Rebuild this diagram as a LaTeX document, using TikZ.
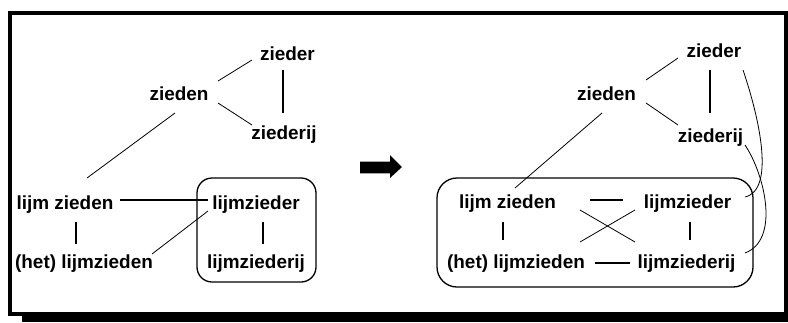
\documentclass[tikz,border=0pt]{standalone}
\usepackage{fontspec}
\setmainfont{Liberation Sans}
\begin{document}
\begin{tikzpicture}[x=1bp,y=-1bp,
  txt/.style={inner sep=0pt, anchor=base, font=\fontsize{19}{21}\selectfont\bfseries},
  thinln/.style={line width=0.8bp},
  thickln/.style={line width=1.8bp},
  grp/.style={line width=1.3bp},
  frame/.style={line width=4bp}]
\useasboundingbox (0,0) rectangle (788,322);
% frame and shadow
\fill (22,312) rectangle (788,322);
\draw[frame] (10,13) rectangle (786,314);
% arrow
\fill (360,161.7) -- (390,161.7) -- (390,155) -- (402,167) -- (390,178) -- (390,173.3) -- (360,173.3) -- cycle;

% left graph
\node[txt] (zl) at (179,100) {zieden};
\node[txt] (Zl) at (287.5,60) {zieder};
\node[txt] (Rl) at (284,139) {ziederij};
\node[txt] (LZl) at (65,209) {lijm zieden};
\node[txt] (Hl) at (84,268) {(het) lijmzieden};
\node[txt] (Ml) at (256,209) {lijmzieder};
\node[txt] (Nl) at (256,268) {lijmziederij};
\draw[thinln] ([shift={(39,-19)}]zl.base) -- ([shift={(-35.5,0)}]Zl.base);
\draw[thinln] ([shift={(39,3)}]zl.base) -- ([shift={(-32,-14)}]Rl.base);
\draw[thickln] ([shift={(-4.5,10)}]Zl.base) -- ([shift={(-1,-26)}]Rl.base);
\draw[thinln] ([shift={(-4,13)}]zl.base) -- ([shift={(22,-31)}]LZl.base);
\draw[thickln] ([shift={(55,-9)}]LZl.base) -- ([shift={(-48,-9)}]Ml.base);
\draw[thinln] ([shift={(-48,2)}]Ml.base) -- ([shift={(68,-14)}]Hl.base);
\draw[thickln] ([shift={(11,13)}]LZl.base) -- ([shift={(-8,-24)}]Hl.base);
\draw[thickln] ([shift={(7,13)}]Ml.base) -- ([shift={(7,-24)}]Nl.base);
\draw[grp, rounded corners=15bp] (197,178) rectangle (316,282);

% right graph
\node[txt] (zr) at (606.5,100) {zieden};
\node[txt] (Zr) at (714,57) {zieder};
\node[txt] (Rr) at (710.5,142) {ziederij};
\node[txt] (LZr) at (507.5,208) {lijm zieden};
\node[txt] (Mr) at (687.5,208) {lijmzieder};
\node[txt] (Hr) at (516,268) {(het) lijmzieden};
\node[txt] (Nr) at (686.5,268) {lijmziederij};
\draw[thinln] ([shift={(39.5,-20)}]zr.base) -- ([shift={(-36,1)}]Zr.base);
\draw[thinln] ([shift={(39.5,3)}]zr.base) -- ([shift={(-32.5,-17)}]Rr.base);
\draw[thickln] ([shift={(-4,13)}]Zr.base) -- ([shift={(-0.5,-29)}]Rr.base);
\draw[thinln] ([shift={(-4.5,13)}]zr.base) -- ([shift={(7.5,-20)}]LZr.base);
\draw[thickln] ([shift={(82.5,-8)}]LZr.base) -- ([shift={(-64.5,-8)}]Mr.base);
\draw[thickln] ([shift={(-4.5,14)}]LZr.base) -- ([shift={(-13,-28)}]Hr.base);
\draw[thickln] ([shift={(2.5,14)}]Mr.base) -- ([shift={(3.5,-28)}]Nr.base);
\draw[thickln] ([shift={(79,-5)}]Hr.base) -- ([shift={(-56.5,-5)}]Nr.base);
\draw[thinln] ([shift={(72.5,2)}]LZr.base) -- ([shift={(-51.5,-26)}]Nr.base);
\draw[thinln] ([shift={(64,-26)}]Hr.base) -- ([shift={(-52.5,2)}]Mr.base);
\draw[thinln] ([shift={(29,13)}]Zr.base) .. controls (760,120) and (775,190) .. ([shift={(57.5,-11)}]Mr.base);
\draw[thinln] ([shift={(34.5,3)}]Rr.base) .. controls (765,175) and (780,240) .. ([shift={(58.5,-15)}]Nr.base);
\draw[grp, rounded corners=20bp] (437,178) rectangle (753,287);
\end{tikzpicture}
\end{document}
